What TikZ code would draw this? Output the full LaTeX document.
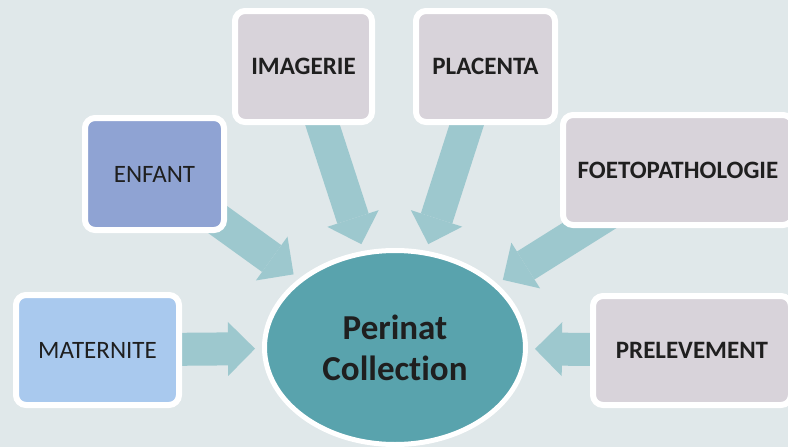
\documentclass[tikz,border=0pt]{standalone}
\usepackage{fontspec}
\setmainfont{Carlito}[Ligatures=NoCommon]
\usepackage{xcolor}
\usetikzlibrary{shapes,arrows.meta,positioning,backgrounds}

\definecolor{bgcol}{RGB}{224,232,234}
\definecolor{flowcol}{RGB}{157,200,206}
\definecolor{corecol}{RGB}{89,163,173}
\definecolor{matcol}{RGB}{169,201,238}
\definecolor{enfcol}{RGB}{143,163,211}
\definecolor{srccol}{RGB}{216,211,218}

\begin{document}
\begin{tikzpicture}[
    x=1pt, y=-1pt,
    block/.style={rectangle, draw=white, line width=6pt, rounded corners=10pt, text=black!88, inner sep=0pt, font=\fontsize{25}{30}\selectfont, minimum width=139pt, minimum height=111pt},
    srcblock/.style={block, fill=srccol, font=\fontsize{25}{30}\selectfont\bfseries},
    core/.style={ellipse, draw=white, line width=5pt, fill=corecol, text=black!88, inner sep=0pt, align=center, font=\fontsize{35}{41}\selectfont\bfseries, minimum width=261pt, minimum height=194pt},
    flow/.style={draw=flowcol, line width=33pt, -{Triangle[width=54pt,length=27pt,line width=0pt]}, shorten >=7pt}
]
\useasboundingbox (0,0) rectangle (788,447);

% Centre
\node[core] (core) at (395,347.5) {Perinat\\Collection};

% Sources
\node[block, fill=matcol, minimum width=163pt, minimum height=110pt] (mat) at (97.5,350) {MATERNITE};
\node[block, fill=enfcol, minimum height=112pt] (enf) at (154.5,174) {ENFANT};
\node[srcblock, minimum width=137pt] (img) at (303.5,66.5) {IMAGERIE};
\node[srcblock] (pla) at (485.5,66.5) {PLACENTA};
\node[srcblock, minimum width=230pt, minimum height=110pt] (foe) at (678,170) {FOETOPATHOLOGIE};
\node[srcblock, minimum width=198pt, minimum height=109pt] (pre) at (692,350.5) {PRELEVEMENT};

% Arrows
\begin{scope}[on background layer]
\fill[bgcol] (0,0) rectangle (788,447);
\draw[flow] (mat.center) -- (core);
\draw[flow] (enf.center) -- (core);
\draw[flow] (img.center) -- (core);
\draw[flow] (pla.center) -- (core);
\draw[flow] (foe.center) -- (core);
\draw[flow] (pre.center) -- (core);
\end{scope}

\end{tikzpicture}
\end{document}
